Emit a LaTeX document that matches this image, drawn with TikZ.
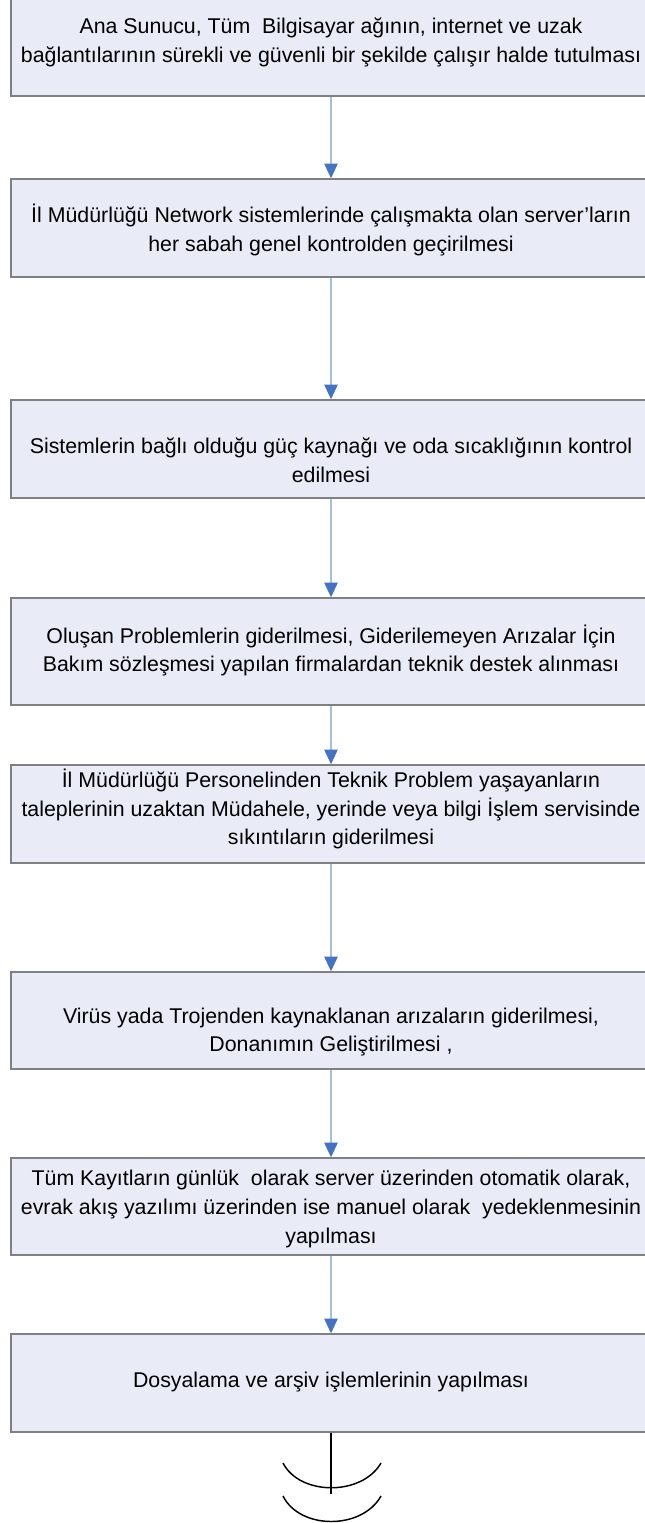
\documentclass[tikz,border=0pt]{standalone}
\usepackage{fontspec}
\setmainfont{Liberation Sans}
\usetikzlibrary{arrows.meta}
\definecolor{boxfill}{RGB}{233,236,246}
\definecolor{boxline}{RGB}{128,128,128}
\definecolor{arrline}{RGB}{166,190,226}
\definecolor{arrhead}{RGB}{68,114,196}
\tikzset{
  box/.style={draw=boxline, line width=1.1pt, fill=boxfill, rectangle, minimum width=480pt, inner sep=0pt},
  txt/.style={align=center, font=\fontsize{16}{21.5}\selectfont, text=black, inner sep=0pt},
  flow/.style={draw=arrline, line width=1.2pt, -{Triangle[length=11pt,width=10pt,color=arrhead,fill=arrhead]}},
  endline/.style={draw=black, line width=1.1pt}
}
\begin{document}
\begin{tikzpicture}[x=0.75pt,y=-0.75pt]
\useasboundingbox (0,0) rectangle (645,1523);
\clip (0,0) rectangle (645,1523);
\fill[white] (0,0) rectangle (645,1523);
% boxes
\node[box, minimum height=81.75pt] (b1) at (331,41.5) {};
\node[box, minimum height=73.5pt] (b2) at (331,228) {};
\node[box, minimum height=73.5pt] (b3) at (331,449) {};
\node[box, minimum height=80.25pt] (b4) at (331,651.5) {};
\node[box, minimum height=73.5pt] (b5) at (331,814) {};
\node[box, minimum height=72.75pt] (b6) at (331,1020.5) {};
\node[box, minimum height=72.75pt] (b7) at (331,1206.5) {};
\node[box, minimum height=73.5pt] (b8) at (331,1383) {};
% texts
\node[txt] (t1) at (331,42.5) {Ana Sunucu, Tüm~ Bilgisayar ağının, internet ve uzak\\bağlantılarının sürekli ve güvenli bir şekilde çalışır halde tutulması};
\node[txt] (t2) at (331,230) {İl Müdürlüğü Network sistemlerinde çalışmakta olan server’ların\\her sabah genel kontrolden geçirilmesi};
\node[txt] (t3) at (331,460) {Sistemlerin bağlı olduğu güç kaynağı ve oda sıcaklığının kontrol\\edilmesi};
\node[txt] (t4) at (331,650.5) {Oluşan Problemlerin giderilmesi, Giderilemeyen Arızalar İçin\\Bakım sözleşmesi yapılan firmalardan teknik destek alınması};
\node[txt] (t5) at (331,809) {İl Müdürlüğü Personelinden Teknik Problem yaşayanların\\taleplerinin uzaktan Müdahele, yerinde veya bilgi İşlem servisinde\\sıkıntıların giderilmesi};
\node[txt] (t6) at (331,1032) {Virüs yada Trojenden kaynaklanan arızaların giderilmesi,\\Donanımın Geliştirilmesi ,};
\node[txt] (t7) at (331,1209) {Tüm Kayıtların günlük~ olarak server üzerinden otomatik olarak,\\evrak akış yazılımı üzerinden ise manuel olarak~ yedeklenmesinin\\yapılması};
\node[txt] (t8) at (331,1382) {Dosyalama ve arşiv işlemlerinin yapılması};
% connectors
\draw[flow] (b1) -- (b2);
\draw[flow] (b2) -- (b3);
\draw[flow] (b3) -- (b4);
\draw[flow] (b4) -- (b5);
\draw[flow] (b5) -- (b6);
\draw[flow] (b6) -- (b7);
\draw[flow] (b7) -- (b8);
% end symbol
\coordinate (e) at (331,1494);
\draw[endline] (b8.south) -- (e);
\draw[endline] (283,1463) .. controls (300,1496) and (362,1496) .. (381,1463);
\draw[endline] (283,1496) .. controls (300,1530) and (362,1530) .. (381,1496);
\end{tikzpicture}
\end{document}
